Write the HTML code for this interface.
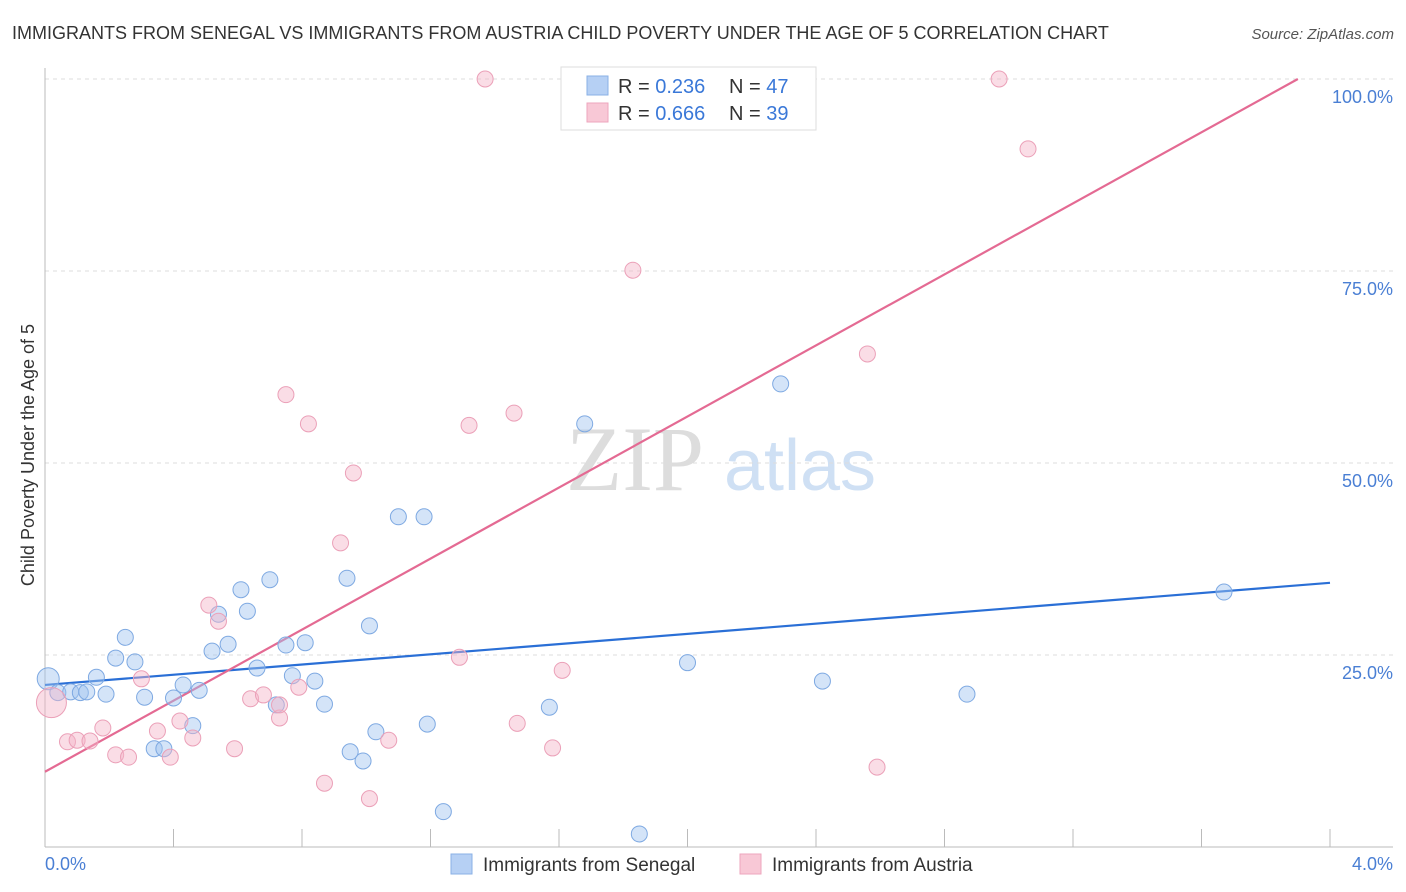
<!DOCTYPE html>
<html><head><meta charset="utf-8"><style>
body{margin:0;background:#fff;font-family:"Liberation Sans",sans-serif}
svg{display:block}
</style></head><body>
<svg id="chart" width="1406" height="892">
<text x="12" y="39" font-size="18" fill="#333">IMMIGRANTS FROM SENEGAL VS IMMIGRANTS FROM AUSTRIA CHILD POVERTY UNDER THE AGE OF 5 CORRELATION CHART</text>
<text x="1394" y="39" font-size="15" fill="#555" font-style="italic" text-anchor="end">Source: ZipAtlas.com</text>
<g>
<text x="635" y="490" font-size="92" fill="#ddd" font-family="Liberation Serif,serif" text-anchor="middle">ZIP</text>
<text x="800" y="490" font-size="72" fill="#cfe0f4" text-anchor="middle">atlas</text>
</g>
<g id="grid"></g><g id="axes"></g><g id="lines"></g><g id="points"></g>
<text x="34" y="455" font-size="18" fill="#333" text-anchor="middle" transform="rotate(-90 34 455)">Child Poverty Under the Age of 5</text>
<text x="45" y="870" font-size="18" fill="#4a7fd4">0.0%</text>
<text x="1393" y="870" font-size="18" fill="#4a7fd4" text-anchor="end">4.0%</text>
<g>
<rect x="561" y="67" width="255" height="63" fill="#fff" stroke="#ddd"/>
<rect x="587" y="76" width="21" height="19" fill="#b6d0f4" stroke="#8ab0e6"/>
<rect x="587" y="103" width="21" height="19" fill="#f8c8d6" stroke="#eea6bd"/>
<text x="618" y="93" font-size="20" fill="#333">R = <tspan fill="#3a78d8">0.236</tspan><tspan x="729">N = </tspan><tspan fill="#3a78d8">47</tspan></text>
<text x="618" y="120" font-size="20" fill="#333">R = <tspan fill="#3a78d8">0.666</tspan><tspan x="729">N = </tspan><tspan fill="#3a78d8">39</tspan></text>
</g>
<g>
<rect x="451" y="854" width="21" height="20" fill="#b6d0f4" stroke="#8ab0e6"/>
<text x="483" y="871" font-size="19" fill="#333">Immigrants from Senegal</text>
<rect x="740" y="854" width="21" height="20" fill="#f8c8d6" stroke="#eea6bd"/>
<text x="772" y="871" font-size="19" fill="#333">Immigrants from Austria</text>
</g>
</svg>
<script>
const yTicks=[25,50,75,100];
const yTickLabels=["25.0%","50.0%","75.0%","100.0%"];
const blueX=[0.01,0.04,0.08,0.11,0.13,0.16,0.19,0.22,0.25,0.28,0.31,0.34,0.37,0.40,0.43,0.46,0.48,0.52,0.54,0.57,0.61,0.63,0.66,0.70,0.72,0.75,0.77,0.81,0.84,0.87,0.94,0.95,0.99,1.01,1.03,1.10,1.18,1.19,1.24,1.57,1.68,1.85,2.00,2.29,2.42,2.87,3.67];
const blueY=[21.9,20.1,20.2,20.1,20.2,22.1,19.9,24.6,27.3,24.1,19.5,12.8,12.8,19.4,21.1,15.8,20.4,25.5,30.3,26.4,33.5,30.7,23.3,34.8,18.5,26.3,22.3,26.6,21.6,18.6,35.0,12.4,11.2,28.8,15.0,43.0,43.0,16.0,4.6,18.2,55.1,1.7,24.0,60.3,21.6,19.9,33.2];
const pinkX=[0.02,0.07,0.10,0.14,0.18,0.22,0.26,0.30,0.35,0.39,0.42,0.46,0.51,0.54,0.59,0.64,0.68,0.73,0.73,0.75,0.79,0.82,0.87,0.92,0.96,1.01,1.07,1.29,1.32,1.37,1.46,1.47,1.58,1.61,1.83,2.56,2.59,2.97,3.06,2.28];
const pinkY=[18.8,13.7,13.9,13.8,15.5,12.0,11.7,21.9,15.1,11.7,16.4,14.2,31.5,29.4,12.8,19.3,19.8,16.8,18.5,58.9,20.8,55.1,8.3,39.6,48.7,6.3,13.9,24.7,54.9,100,56.5,16.1,12.9,23.0,75.1,64.2,10.4,100,90.9,100];
const blueTrend=[21.1,34.4];
const pinkTrend=[9.8,100];
const pinkTrendEndX=3.9;
const xs=v=>45+v*321.25, ys=v=>847-v*7.68;
const NS="http://www.w3.org/2000/svg";
function mk(t,a,p){const e=document.createElementNS(NS,t);for(const k in a)e.setAttribute(k,a[k]);document.getElementById(p).appendChild(e);return e;}
yTicks.forEach((t,i)=>{
 const l=mk('line',{x1:45,x2:1393,y1:ys(t),y2:ys(t),stroke:'#ddd','stroke-dasharray':'4,4'},'grid');
 
 
 const tx=mk('text',{x:1393,y:ys(t)+24,'font-size':18,fill:'#4a7fd4','text-anchor':'end'},'grid');
 tx.textContent=yTickLabels[i];
 
 
});
const ax=mk('line',{x1:45,x2:1393,y1:847,y2:847,stroke:'#bbb'},'axes');


const ay=mk('line',{x1:45,x2:45,y1:68,y2:847,stroke:'#bbb'},'axes');


for(let i=1;i<=10;i++){const t=mk('line',{x1:xs(i*0.4),x2:xs(i*0.4),y1:829,y2:847,stroke:'#bbb'},'axes');
 
 }
const bl=mk('line',{x1:xs(0),y1:ys(blueTrend[0]),x2:xs(4),y2:ys(blueTrend[1]),stroke:'#2a6fd6','stroke-width':2.2},'lines');


const pl=mk('line',{x1:xs(0),y1:ys(pinkTrend[0]),x2:xs(pinkTrendEndX),y2:ys(pinkTrend[1]),stroke:'#e46a93','stroke-width':2.2},'lines');


blueX.forEach((x,i)=>{const c=mk('circle',{cx:xs(x),cy:ys(blueY[i]),r:i==0?11:8,fill:'rgba(160,195,240,0.45)',stroke:'#7ea9e2','stroke-width':1},'points');
 
 });
pinkX.forEach((x,i)=>{const c=mk('circle',{cx:xs(x),cy:ys(pinkY[i]),r:i==0?15:8,fill:'rgba(244,180,200,0.45)',stroke:'#eba0b8','stroke-width':1},'points');
 
 });
</script>
</body></html>
